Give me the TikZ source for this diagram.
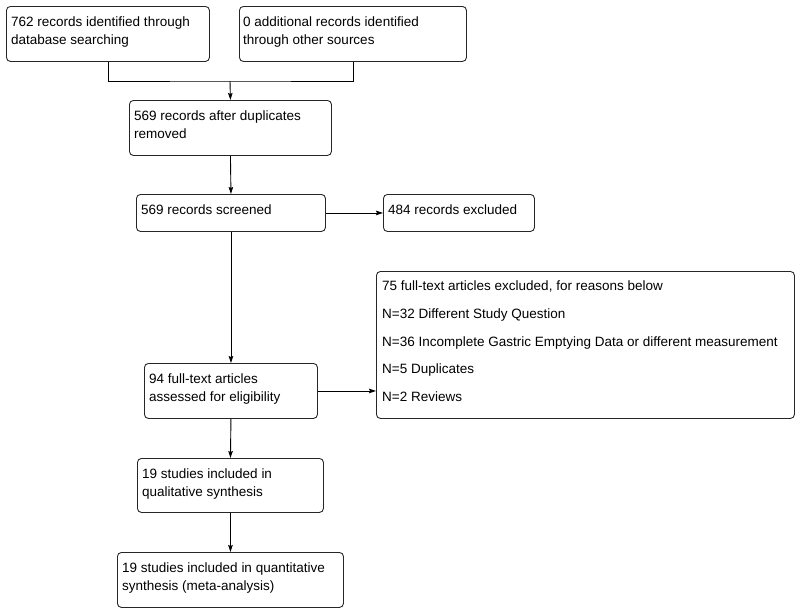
\documentclass[tikz,border=0pt]{standalone}
\usepackage{fontspec}
\setmainfont{Liberation Sans}
\usetikzlibrary{arrows.meta}
\begin{document}
\begin{tikzpicture}[x=1pt,y=-1pt,
  box/.style={draw=black!85, line width=0.9pt, rounded corners=4pt, inner sep=0pt, anchor=north west},
  txt/.style={anchor=base west, inner sep=0pt, font=\fontsize{13.5}{18}\selectfont},
  conn/.style={draw=black, line width=0.9pt},
  arr/.style={conn, -{Stealth[length=7pt,width=4.5pt,inset=1pt]}}]
\useasboundingbox (0,0) rectangle (800,613);
% boxes
\node[box, minimum width=203pt, minimum height=55pt] (b1) at (6,6) {};
\node[box, minimum width=227pt, minimum height=55pt] (b2) at (239,6) {};
\node[box, minimum width=202pt, minimum height=55pt] (b3) at (129,100) {};
\node[box, minimum width=189pt, minimum height=37pt] (b4) at (136,194) {};
\node[box, minimum width=151pt, minimum height=37pt] (b5) at (383,194) {};
\node[box, minimum width=418pt, minimum height=147pt] (b6) at (376,271) {};
\node[box, minimum width=173pt, minimum height=55pt] (b7) at (144,363) {};
\node[box, minimum width=186pt, minimum height=54pt] (b8) at (137,458) {};
\node[box, minimum width=226pt, minimum height=55pt] (b9) at (117,552) {};
% texts
\node[txt] (t1a) at (11,26) {762 records identified through};
\node[txt] (t1b) at (11,44) {database searching};
\node[txt] (t2a) at (243,26) {0 additional records identified};
\node[txt] (t2b) at (243,44) {through other sources};
\node[txt] (t3a) at (134,120) {569 records after duplicates};
\node[txt] (t3b) at (134,138) {removed};
\node[txt] (t4) at (141,214) {569 records screened};
\node[txt] (t5) at (388,214) {484 records excluded};
\node[txt] (t6a) at (382,290) {75 full-text articles excluded, for reasons below};
\node[txt] (t6b) at (382,318) {N=32 Different Study Question};
\node[txt] (t6c) at (382,346) {N=36 Incomplete Gastric Emptying Data or different measurement};
\node[txt] (t6d) at (382,373.5) {N=5 Duplicates};
\node[txt] (t6e) at (382,401.5) {N=2 Reviews};
\node[txt] (t7a) at (149,383) {94 full-text articles};
\node[txt] (t7b) at (149,401) {assessed for eligibility};
\node[txt] (t8a) at (142,478) {19 studies included in};
\node[txt] (t8b) at (142,496) {qualitative synthesis};
\node[txt] (t9a) at (122,572) {19 studies included in quantitative};
\node[txt] (t9b) at (122,590) {synthesis (meta-analysis)};
% connectors
\coordinate (j) at (230,81);
\draw[conn] (b1.south) |- (j) -| (b2.south);
\draw[arr] (j) -- (b3.north);
\draw[arr] (b3.south) -- (b4.north);
\draw[arr] (b4.east) -- (b5.west);
\draw[arr] (b4.south) -- (b7.north);
\draw[arr] (b7.east) -- (b7.east -| b6.west);
\draw[arr] (b7.south) -- (b8.north);
\draw[arr] (b8.south) -- (b9.north);
\end{tikzpicture}
\end{document}
